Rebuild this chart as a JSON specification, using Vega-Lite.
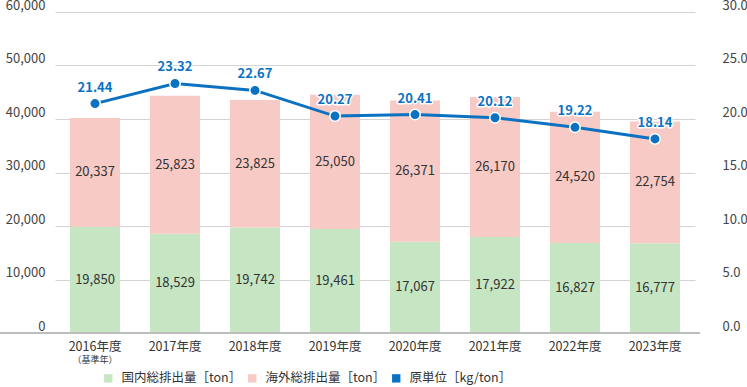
{
  "$schema": "https://vega.github.io/schema/vega-lite/v6.json",
  "width": 700,
  "height": 321,
  "autosize": {"type": "none"},
  "padding": {"left": 0, "top": 12, "right": 47, "bottom": 54},
  "config": {"font": "Noto Sans CJK JP", "view": {"stroke": null}},
  "datasets": {
    "emissions": [
      {"year": "2016年度", "series": "国内総排出量［ton］", "value": 19850},
      {"year": "2016年度", "series": "海外総排出量［ton］", "value": 20337},
      {"year": "2017年度", "series": "国内総排出量［ton］", "value": 18529},
      {"year": "2017年度", "series": "海外総排出量［ton］", "value": 25823},
      {"year": "2018年度", "series": "国内総排出量［ton］", "value": 19742},
      {"year": "2018年度", "series": "海外総排出量［ton］", "value": 23825},
      {"year": "2019年度", "series": "国内総排出量［ton］", "value": 19461},
      {"year": "2019年度", "series": "海外総排出量［ton］", "value": 25050},
      {"year": "2020年度", "series": "国内総排出量［ton］", "value": 17067},
      {"year": "2020年度", "series": "海外総排出量［ton］", "value": 26371},
      {"year": "2021年度", "series": "国内総排出量［ton］", "value": 17922},
      {"year": "2021年度", "series": "海外総排出量［ton］", "value": 26170},
      {"year": "2022年度", "series": "国内総排出量［ton］", "value": 16827},
      {"year": "2022年度", "series": "海外総排出量［ton］", "value": 24520},
      {"year": "2023年度", "series": "国内総排出量［ton］", "value": 16777},
      {"year": "2023年度", "series": "海外総排出量［ton］", "value": 22754}
    ],
    "intensity": [
      {"year": "2016年度", "intensity": 21.44},
      {"year": "2017年度", "intensity": 23.32},
      {"year": "2018年度", "intensity": 22.67},
      {"year": "2019年度", "intensity": 20.27},
      {"year": "2020年度", "intensity": 20.41},
      {"year": "2021年度", "intensity": 20.12},
      {"year": "2022年度", "intensity": 19.22},
      {"year": "2023年度", "intensity": 18.14}
    ],
    "note": [{"year": "2016年度", "note": "（基準年）"}]
  },
  "layer": [
    {
      "layer": [
        {
          "data": {"name": "emissions"},
          "transform": [
            {"stack": "value", "groupby": ["year"], "sort": [{"field": "series", "order": "ascending"}], "as": ["v0", "v1"]}
          ],
          "mark": {"type": "bar"},
          "encoding": {
            "x": {"field": "year", "type": "nominal", "sort": null, "title": null,
              "scale": {"range": [55, 695], "paddingInner": 0.375, "paddingOuter": 0.1875},
              "axis": {"domain": false, "ticks": false, "labelAngle": 0, "labelPadding": 7, "labelFontSize": 12.5, "labelColor": "#333", "labelBaseline": "top"}},
            "y": {"field": "v0", "type": "quantitative", "title": null,
              "scale": {"domain": [0, 60000]},
              "axis": {"orient": "left", "domain": false, "ticks": false, "tickSize": 0, "grid": true, "gridColor": "#d3d3d3", "gridWidth": 1,
                "values": [0, 10000, 20000, 30000, 40000, 50000, 60000], "format": ",.0f",
                "labelAlign": "right", "labelPadding": -45, "labelBaseline": "alphabetic", "labelOffset": -3,
                "labelOverlap": false, "labelFontSize": 13, "labelColor": "#444"}},
            "y2": {"field": "v1"},
            "color": {"field": "series", "type": "nominal",
              "scale": {"domain": ["国内総排出量［ton］", "海外総排出量［ton］", "原単位［kg/ton］"], "range": ["#c6e6c3", "#f8cac5", "#0b72c2"]},
              "legend": {"orient": "none", "legendX": 102, "legendY": 360, "direction": "horizontal", "title": null,
                "symbolType": "square", "symbolSize": 70, "symbolStrokeWidth": 0, "labelFontSize": 12.5, "labelColor": "#333",
                "columnPadding": 4, "labelOffset": 7, "labelLimit": 300}}
          }
        },
        {
          "data": {"name": "emissions"},
          "transform": [
            {"stack": "value", "groupby": ["year"], "sort": [{"field": "series", "order": "ascending"}], "as": ["v0", "v1"]},
            {"calculate": "(datum.v0 + datum.v1) / 2", "as": "mid"}
          ],
          "mark": {"type": "text", "fontSize": 13, "color": "#333"},
          "encoding": {
            "x": {"field": "year", "type": "nominal", "sort": null},
            "y": {"field": "mid", "type": "quantitative"},
            "text": {"field": "value", "type": "quantitative", "format": ","}
          }
        },
        {
          "data": {"name": "note"},
          "mark": {"type": "text", "fontSize": 9, "color": "#333", "dy": 27},
          "encoding": {
            "x": {"field": "year", "type": "nominal", "sort": null},
            "y": {"datum": 0},
            "text": {"field": "note"}
          }
        },
        {
          "data": {"values": [{}]},
          "mark": {"type": "rule", "color": "#bdbdbd", "strokeWidth": 2},
          "encoding": {"y": {"datum": 0}}
        }
      ]
    },
    {
      "data": {"name": "intensity"},
      "layer": [
        {
          "mark": {"type": "line", "color": "#0b72c2", "strokeWidth": 3},
          "encoding": {
            "x": {"field": "year", "type": "nominal", "sort": null},
            "y": {"field": "intensity", "type": "quantitative", "title": null,
              "scale": {"domain": [0, 30]},
              "axis": {"orient": "right", "domain": false, "ticks": false, "tickSize": 0, "grid": false,
                "values": [0, 5, 10, 15, 20, 25, 30], "format": ".1f",
                "labelAlign": "left", "labelPadding": 22, "labelBaseline": "alphabetic", "labelOffset": -3,
                "labelOverlap": false, "labelFontSize": 13, "labelColor": "#444"}}
          }
        },
        {
          "mark": {"type": "point", "filled": true, "size": 110, "stroke": "white", "strokeWidth": 1.5, "opacity": 1},
          "encoding": {
            "x": {"field": "year", "type": "nominal", "sort": null},
            "y": {"field": "intensity", "type": "quantitative"},
            "color": {"datum": "原単位［kg/ton］"}
          }
        },
        {
          "mark": {"type": "text", "dy": -16, "fontSize": 13, "fontWeight": "bold", "color": "white", "stroke": "white", "strokeWidth": 3, "strokeJoin": "round"},
          "encoding": {
            "x": {"field": "year", "type": "nominal", "sort": null},
            "y": {"field": "intensity", "type": "quantitative"},
            "text": {"field": "intensity", "type": "quantitative", "format": ".2f"}
          }
        },
        {
          "mark": {"type": "text", "dy": -16, "fontSize": 13, "fontWeight": "bold", "color": "#0b72c2"},
          "encoding": {
            "x": {"field": "year", "type": "nominal", "sort": null},
            "y": {"field": "intensity", "type": "quantitative"},
            "text": {"field": "intensity", "type": "quantitative", "format": ".2f"}
          }
        }
      ]
    }
  ],
  "resolve": {"scale": {"y": "independent"}}
}
